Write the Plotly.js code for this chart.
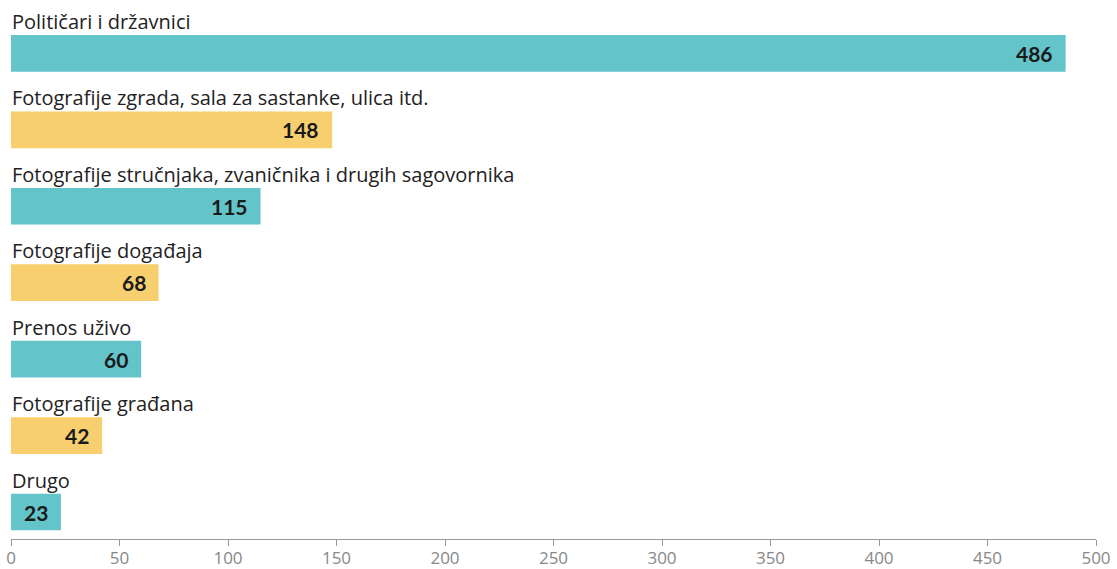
<!DOCTYPE html>
<html>
<head>
<meta charset="utf-8">
<script src="https://cdn.plot.ly/plotly-3.0.1.min.js"></script>
<style>html,body{margin:0;padding:0;background:#fff;}#chart{width:1117px;height:569px;}</style>
</head>
<body>
<div id="chart"></div>
<script>
const categories = [
  "Političari i državnici",
  "Fotografije zgrada, sala za sastanke, ulica itd.",
  "Fotografije stručnjaka, zvaničnika i drugih sagovornika",
  "Fotografije događaja",
  "Prenos uživo",
  "Fotografije građana",
  "Drugo"
];
const values = [486, 148, 115, 68, 60, 42, 23];
const palette = ["#63C4CA", "#F7CF6E"];
const tickValues = [0, 50, 100, 150, 200, 250, 300, 350, 400, 450, 500];

const positions = categories.map((c, i) => i);
const barColors = categories.map((c, i) => palette[i % 2]);
const LABEL_FONT = "'Open Sans', Lato, sans-serif";
const VALUE_FONT = "Lato, 'Open Sans', sans-serif";

const trace = {
  type: "bar",
  orientation: "h",
  x: values,
  y: positions,
  width: 0.48,
  marker: {color: barColors, line: {width: 0}},
  hoverinfo: "none"
};

const annotations = [];
categories.forEach((c, i) => {
  annotations.push({
    x: 0, y: i - 0.24, xref: "x", yref: "y",
    text: c, showarrow: false,
    xanchor: "left", yanchor: "bottom", xshift: -1, yshift: -2,
    font: {family: LABEL_FONT, size: 20, color: "#222"}
  });
  annotations.push({
    x: values[i], y: i, xref: "x", yref: "y",
    text: "<b>" + values[i] + "</b>", showarrow: false,
    xanchor: "right", yanchor: "middle", xshift: -11,
    font: {family: VALUE_FONT, size: 21, color: "#1a1a1a"}
  });
});

const layout = {
  width: 1117, height: 569,
  margin: {l: 11.3, r: 21, t: 15, b: 30.3, pad: 0},
  paper_bgcolor: "#fff", plot_bgcolor: "#fff",
  showlegend: false,
  xaxis: {
    range: [0, 500], tickvals: tickValues, ticktext: tickValues.map(String),
    showgrid: false, zeroline: false, showline: true, linecolor: "#999", linewidth: 1,
    ticks: "outside", ticklen: 6, tickcolor: "#999", tickwidth: 1,
    ticklabelstandoff: -2,
    tickfont: {family: LABEL_FONT, size: 17, color: "#888"}, fixedrange: true
  },
  yaxis: {
    range: [6.353, -0.502], showticklabels: false, showgrid: false,
    zeroline: false, showline: false, ticks: "", fixedrange: true
  },
  annotations: annotations
};

Plotly.newPlot("chart", [trace], layout, {displayModeBar: false, staticPlot: true});
</script>
</body>
</html>
